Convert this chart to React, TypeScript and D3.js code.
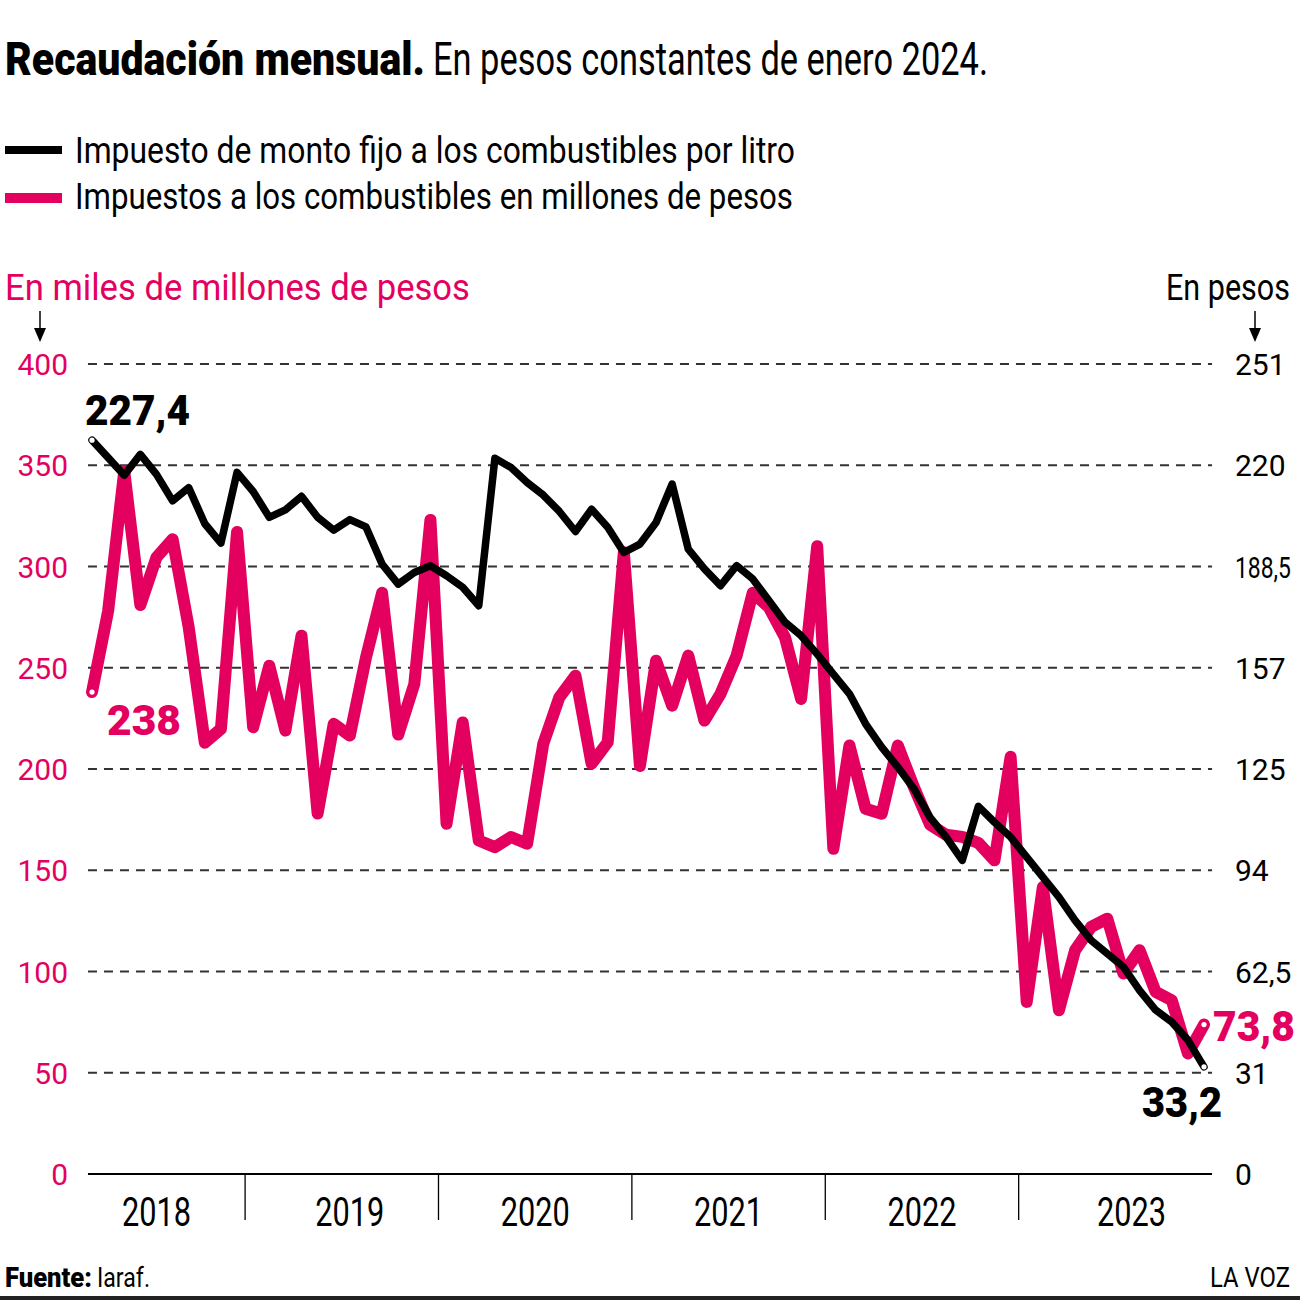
import * as d3 from "d3";
import React, { useEffect, useRef } from "react";

// monthly series, March 2018 .. December 2023
const years = ["2018", "2019", "2020", "2021", "2022", "2023"];
const monthsPerYear = [10, 12, 12, 12, 12, 12];
const yearLabelAt = [4, 16, 27.5, 39.5, 51.5, 64.5]; // month index where each year label sits

// Impuesto de monto fijo por litro (pesos, right axis)
const fixedTax = [
  227.4, 222, 216.5, 223, 216.8, 208.6, 212.7, 201.5, 195.5, 217.4,
  211.5, 203.5, 205.8, 210, 203.5, 199.5, 202.8, 200.5, 189, 182.8, 186.4, 188.5, 185.4, 181.8,
  176.1, 221.8, 218.9, 214.3, 210.4, 205.3, 199.1, 206, 200.4, 192.6, 195.2, 201.9,
  213.8, 193.6, 187.5, 182.3, 188.5, 184.4, 177.7, 171, 166.8, 161.1, 154.9, 148.8,
  139.5, 132.3, 126.1, 119.4, 110.5, 104.4, 97.2, 113.9, 109, 104.4, 98.2, 92,
  85.8, 78.6, 72.4, 68.3, 64.2, 56.9, 50.8, 47.1, 41.5, 33.2,
];

// Impuestos a los combustibles (miles de millones de pesos, left axis)
const fuelTax = [
  238, 278, 347, 281, 304.5, 313.5, 270, 213, 219.8, 317,
  220.6, 251, 219, 265.8, 178, 222.3, 216.5, 255, 287, 217, 242, 323, 173, 223,
  164.7, 161.4, 166.4, 163.1, 212.4, 235.4, 246.1, 202.6, 213.2, 307, 201.5, 253.5,
  231.3, 256, 223.9, 237.1, 256, 287, 279.8, 265, 234.6, 310, 160.6, 211.6,
  180.4, 177.9, 211.6, 191, 172.5, 167.5, 166.5, 163.5, 154.9, 206, 85, 141.7,
  80.9, 110.5, 122, 126.1, 99, 110.5, 89.9, 85.8, 59.5, 73.8,
];

const leftTicks = [0, 50, 100, 150, 200, 250, 300, 350, 400];
const rightTickLabels = ["0", "31", "62,5", "94", "125", "157", "188,5", "220", "251"];

const PINK = "#e4005f";
const FONT = "Roboto, 'Noto Sans', sans-serif";

export default function App() {
  const ref = useRef<SVGSVGElement | null>(null);

  useEffect(() => {
    const svg = d3.select(ref.current);
    svg.selectAll("*").remove();

    const x = d3.scaleLinear().domain([0, fuelTax.length - 1]).range([92, 1204]);
    const yLeft = d3.scaleLinear().domain([0, 400]).range([1174, 364]);
    const yRight = d3.scaleLinear().domain([0, 251]).range([1174, 364]);

    const text = (
      s: string,
      px: number,
      py: number,
      size: number,
      opts: { weight?: number; fill?: string; anchor?: string; width?: number } = {}
    ) => {
      const t = svg
        .append("text")
        .attr("x", px)
        .attr("y", py)
        .attr("font-family", FONT)
        .attr("font-size", size)
        .attr("font-weight", opts.weight ?? 400)
        .attr("fill", opts.fill ?? "#000")
        .attr("text-anchor", opts.anchor ?? "start")
        .text(s);
      if (opts.width) t.attr("textLength", opts.width).attr("lengthAdjust", "spacingAndGlyphs");
      return t;
    };

    svg.append("rect").attr("width", 1300).attr("height", 1300).attr("fill", "#fff");

    // header
    text("Recaudación mensual.", 5, 75, 46, { weight: 900, width: 420 });
    text("En pesos constantes de enero 2024.", 433, 75, 46, { width: 555 });

    // legend
    svg.append("rect").attr("x", 5).attr("y", 146).attr("width", 57).attr("height", 8).attr("fill", "#000");
    text("Impuesto de monto fijo a los combustibles por litro", 75, 163, 36, { width: 720 });
    svg.append("rect").attr("x", 5).attr("y", 193).attr("width", 57).attr("height", 10).attr("fill", PINK);
    text("Impuestos a los combustibles en millones de pesos", 75, 209, 36, { width: 718 });

    // axis titles with arrows
    text("En miles de millones de pesos", 5, 300, 37, { fill: PINK, width: 465 });
    text("En pesos", 1166, 300, 37, { width: 124 });
    [40, 1255].forEach((ax) => {
      svg.append("line").attr("x1", ax).attr("x2", ax).attr("y1", 311).attr("y2", 330)
        .attr("stroke", "#000").attr("stroke-width", 1.5);
      svg.append("path").attr("d", `M${ax - 6},328L${ax + 6},328L${ax},342Z`).attr("fill", "#000");
    });

    // gridlines
    const x0 = x(-0.25);
    const x1 = x(fuelTax.length - 0.5);
    svg.append("g")
      .selectAll("line")
      .data(leftTicks.filter((d) => d > 0))
      .enter()
      .append("line")
      .attr("x1", x0)
      .attr("x2", x1)
      .attr("y1", (d) => yLeft(d))
      .attr("y2", (d) => yLeft(d))
      .attr("stroke", "#333")
      .attr("stroke-width", 1.8)
      .attr("stroke-dasharray", "9,7");

    svg.append("line").attr("x1", x0).attr("x2", x1).attr("y1", yLeft(0)).attr("y2", yLeft(0))
      .attr("stroke", "#000").attr("stroke-width", 2);

    // tick labels
    leftTicks.forEach((d) => text(String(d), 68, yLeft(d) + 11, 30, { fill: PINK, anchor: "end" }));
    rightTickLabels.forEach((s, i) =>
      text(s, 1235, yRight((251 * i) / 8) + 11, 30, s.length > 4 ? { width: 56 } : {})
    );

    // year separators and labels
    let acc = 0;
    monthsPerYear.slice(0, -1).forEach((m) => {
      acc += m;
      const bx = x(acc - 0.5);
      svg.append("line").attr("x1", bx).attr("x2", bx).attr("y1", yLeft(0)).attr("y2", 1220)
        .attr("stroke", "#000").attr("stroke-width", 1.3);
    });
    years.forEach((yr, i) => text(yr, x(yearLabelAt[i]), 1226, 40, { anchor: "middle", width: 69 }));

    // series
    const lineLeft = d3.line<number>().x((_, i) => x(i)).y((d) => yLeft(d));
    const lineRight = d3.line<number>().x((_, i) => x(i)).y((d) => yRight(d));

    svg.append("path").datum(fuelTax).attr("d", lineLeft).attr("fill", "none")
      .attr("stroke", PINK).attr("stroke-width", 12)
      .attr("stroke-linejoin", "round").attr("stroke-linecap", "round");
    svg.append("path").datum(fixedTax).attr("d", lineRight).attr("fill", "none")
      .attr("stroke", "#000").attr("stroke-width", 7.5)
      .attr("stroke-linejoin", "round").attr("stroke-linecap", "round");

    const last = fuelTax.length - 1;
    const ends = [
      [x(0), yLeft(fuelTax[0])],
      [x(last), yLeft(fuelTax[last])],
      [x(0), yRight(fixedTax[0])],
      [x(last), yRight(fixedTax[last])],
    ];
    ends.forEach(([cx, cy]) => {
      svg.append("circle").attr("cx", cx).attr("cy", cy).attr("r", 2.6).attr("fill", "#fff");
    });

    // value labels
    const fmt = (v: number) => String(v).replace(".", ",");
    text(fmt(fixedTax[0]), x(0) - 7, yRight(fixedTax[0]) - 15, 42, { weight: 900, width: 105 });
    text(fmt(fuelTax[0]), x(0) + 15, yLeft(fuelTax[0]) + 43, 42, { weight: 900, fill: PINK, width: 74 });
    text(fmt(fuelTax[last]), x(last) + 9, yLeft(fuelTax[last]) + 16, 42, { weight: 900, fill: PINK, width: 82 });
    text(fmt(fixedTax[last]), x(last) + 18, yRight(fixedTax[last]) + 50, 42, {
      weight: 900, anchor: "end", width: 80,
    });

    // footer
    text("Fuente:", 5, 1287, 27, { weight: 900, width: 87 });
    text("Iaraf.", 97, 1287, 27, { width: 53 });
    text("LA VOZ", 1290, 1287, 27, { anchor: "end", width: 80 });
    svg.append("rect").attr("x", 0).attr("y", 1296).attr("width", 1300).attr("height", 4).attr("fill", "#222");
  }, []);

  return (
    <svg
      ref={ref}
      width={1300}
      height={1300}
      style={{ position: "absolute", left: 0, top: 0, display: "block" }}
    />
  );
}
